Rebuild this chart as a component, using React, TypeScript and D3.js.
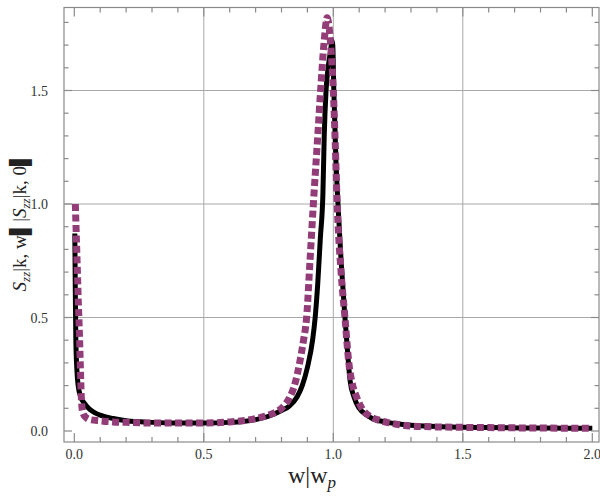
import React, { useRef, useEffect } from "react";
import * as d3 from "d3";

// black solid curve: S_zz(k,w)/S_zz(k,0), exact
const blackX = [0.002, 0.004, 0.006, 0.01, 0.015, 0.025, 0.04, 0.06, 0.08, 0.1, 0.15, 0.2, 0.3, 0.4, 0.5, 0.6, 0.65, 0.7, 0.75, 0.8, 0.83, 0.86, 0.88, 0.9, 0.92, 0.93, 0.94, 0.95, 0.96, 0.965, 0.972, 0.98, 0.99, 0.995, 0.998, 1.002, 1.01, 1.018, 1.03, 1.045, 1.055, 1.065, 1.08, 1.1, 1.13, 1.15, 1.2, 1.3, 1.4, 1.6, 1.8, 2.0];
const blackY = [0.87, 0.6, 0.4, 0.27, 0.2, 0.15, 0.12, 0.095, 0.08, 0.07, 0.055, 0.045, 0.038, 0.035, 0.035, 0.038, 0.042, 0.05, 0.065, 0.09, 0.11, 0.15, 0.2, 0.28, 0.4, 0.5, 0.65, 0.85, 1.05, 1.3, 1.5, 1.6, 1.68, 1.72, 1.7, 1.5, 1.2, 1.0, 0.75, 0.5, 0.35, 0.22, 0.15, 0.1, 0.07, 0.055, 0.04, 0.025, 0.02, 0.015, 0.013, 0.012];

// purple dotted curve: approximation
const purpleX = [0.004, 0.008, 0.012, 0.016, 0.02, 0.023, 0.026, 0.03, 0.035, 0.045, 0.06, 0.1, 0.15, 0.2, 0.3, 0.4, 0.5, 0.6, 0.65, 0.7, 0.75, 0.78, 0.8, 0.83, 0.85, 0.87, 0.885, 0.897, 0.91, 0.923, 0.94, 0.951, 0.965, 0.976, 0.99, 1.0, 1.008, 1.015, 1.03, 1.045, 1.06, 1.075, 1.09, 1.11, 1.14, 1.17, 1.22, 1.3, 1.4, 1.6, 1.8, 2.0];
const purpleY = [1.0, 0.85, 0.7, 0.55, 0.42, 0.3, 0.18, 0.1, 0.075, 0.06, 0.05, 0.045, 0.04, 0.038, 0.035, 0.035, 0.035, 0.04, 0.045, 0.055, 0.07, 0.085, 0.1, 0.145, 0.2, 0.3, 0.4, 0.5, 0.75, 1.0, 1.3, 1.5, 1.72, 1.82, 1.7, 1.5, 1.25, 1.0, 0.7, 0.5, 0.3, 0.2, 0.15, 0.1, 0.065, 0.05, 0.035, 0.022, 0.018, 0.015, 0.013, 0.012];

const xTickLabels = ["0.0", "0.5", "1.0", "1.5", "2.0"];
const yTickLabels = ["0.0", "0.5", "1.0", "1.5"];

const W = 600;
const H = 500;
const frame = { left: 64, right: 599, top: 7.5, bottom: 442 };

const App = () => {
  const svgRef = useRef<SVGSVGElement>(null);

  useEffect(() => {
    const svg = d3.select(svgRef.current);
    svg.selectAll("*").remove();

    const x = d3.scaleLinear().domain([0, 2]).range([74.3, 592.3]);
    const y = d3.scaleLinear().domain([0, 1]).range([431, 204]);

    const gray = "#8a8a8a";

    // grid
    const grid = svg.append("g");
    [0.5, 1.0, 1.5].forEach((v) => {
      grid.append("line")
        .attr("x1", x(v)).attr("x2", x(v))
        .attr("y1", frame.top).attr("y2", frame.bottom)
        .attr("stroke", "#a8a8a8").attr("stroke-width", 1);
      grid.append("line")
        .attr("x1", frame.left).attr("x2", frame.right)
        .attr("y1", y(v)).attr("y2", y(v))
        .attr("stroke", "#a8a8a8").attr("stroke-width", 1);
    });

    // curves
    const line = d3.line<[number, number]>()
      .x((d) => x(d[0]))
      .y((d) => y(d[1]))
      .curve(d3.curveMonotoneX);

    const black = blackX.map((v, i) => [v, blackY[i]] as [number, number]);
    const purple = purpleX.map((v, i) => [v, purpleY[i]] as [number, number]);

    svg.append("path")
      .attr("d", line(black))
      .attr("fill", "none")
      .attr("stroke", "#000")
      .attr("stroke-width", 5)
      .attr("stroke-linejoin", "round");

    svg.append("path")
      .attr("d", line(purple))
      .attr("fill", "none")
      .attr("stroke", "#923c78")
      .attr("stroke-width", 7)
      .attr("stroke-dasharray", "7 3.5");

    // frame
    svg.append("rect")
      .attr("x", frame.left).attr("y", frame.top)
      .attr("width", frame.right - frame.left)
      .attr("height", frame.bottom - frame.top)
      .attr("fill", "none").attr("stroke", gray).attr("stroke-width", 1.2);

    // ticks
    const ticks = svg.append("g").attr("stroke", gray).attr("stroke-width", 1.2);
    d3.range(0, 21).forEach((i) => {
      const v = i / 10;
      const len = i % 5 === 0 ? 9 : 5;
      ticks.append("line").attr("x1", x(v)).attr("x2", x(v))
        .attr("y1", frame.bottom).attr("y2", frame.bottom - len);
      ticks.append("line").attr("x1", x(v)).attr("x2", x(v))
        .attr("y1", frame.top).attr("y2", frame.top + len);
    });
    d3.range(0, 19).forEach((i) => {
      const v = i / 10;
      const len = i % 5 === 0 ? 8 : 4.5;
      ticks.append("line").attr("x1", frame.left).attr("x2", frame.left + len)
        .attr("y1", y(v)).attr("y2", y(v));
      ticks.append("line").attr("x1", frame.right).attr("x2", frame.right - len)
        .attr("y1", y(v)).attr("y2", y(v));
    });

    const font = "'Liberation Serif', 'DejaVu Serif', serif";

    // tick labels
    svg.append("g").selectAll("text").data(xTickLabels).enter().append("text")
      .attr("x", (d) => x(+d))
      .attr("y", 459)
      .attr("text-anchor", "middle")
      .attr("font-family", font)
      .attr("font-size", 14)
      .attr("fill", "#333")
      .text((d) => d);

    svg.append("g").selectAll("text").data(yTickLabels).enter().append("text")
      .attr("x", 48)
      .attr("y", (d) => y(+d) + 5)
      .attr("text-anchor", "end")
      .attr("font-family", font)
      .attr("font-size", 14)
      .attr("fill", "#333")
      .text((d) => d);

    // x axis label
    const xl = svg.append("text")
      .attr("x", 312).attr("y", 483)
      .attr("text-anchor", "middle")
      .attr("font-family", font)
      .attr("font-size", 24)
      .attr("fill", "#222");
    xl.append("tspan").text("w|w");
    xl.append("tspan").attr("font-style", "italic").attr("font-size", 17)
      .attr("dy", 5).text("p");

    // y axis label
    const yl = svg.append("text")
      .attr("transform", "translate(26,222) rotate(-90)")
      .attr("text-anchor", "middle")
      .attr("font-family", font)
      .attr("font-size", 19)
      .attr("fill", "#222");
    yl.append("tspan").attr("font-style", "italic").text("S");
    yl.append("tspan").attr("font-style", "italic").attr("font-size", 13).attr("dy", 4).text("zz");
    yl.append("tspan").attr("dy", -4).text("|k, w\u258C|");
    yl.append("tspan").attr("font-style", "italic").text("S");
    yl.append("tspan").attr("font-style", "italic").attr("font-size", 13).attr("dy", 4).text("zz");
    yl.append("tspan").attr("dy", -4).text("|k, 0\u258C");
  }, []);

  return (
    <div style={{ position: "absolute", left: 0, top: 0 }}>
      <svg ref={svgRef} width={W} height={H} xmlns="http://www.w3.org/2000/svg" />
    </div>
  );
};

export default App;
